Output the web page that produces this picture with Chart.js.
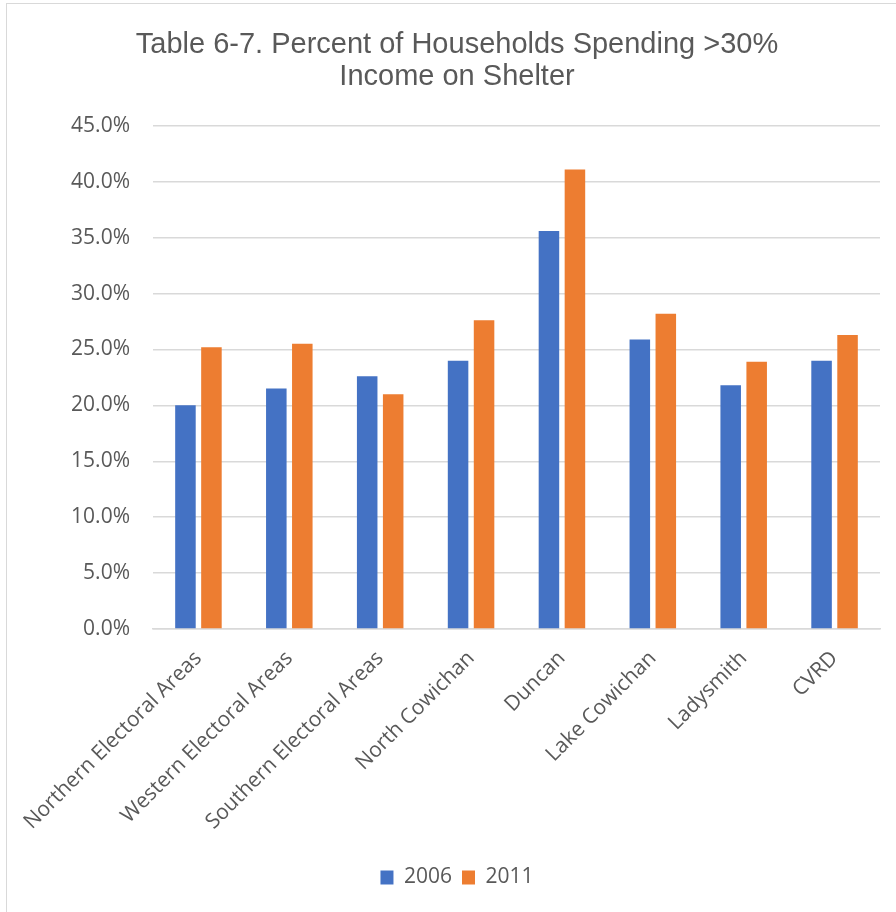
<!DOCTYPE html>
<html>
<head>
<meta charset="utf-8">
<script src="https://cdn.jsdelivr.net/npm/chart.js@4/dist/chart.umd.min.js"></script>
<style>
  body { margin: 0; background: #fff; overflow: hidden; }
  #frame { position: absolute; left: 6px; top: 3px; width: 1000px; height: 1000px; border: 1px solid #d9d9d9; }
  #wrap { position: absolute; left: 0; top: 0; width: 896px; height: 912px; }
</style>
</head>
<body>
<div id="frame"></div>
<div id="wrap"><canvas id="myChart" width="896" height="912"></canvas></div>
<script>
// categories and values (percent)
let areas = ["Northern Electoral Areas", "Western Electoral Areas", "Southern Electoral Areas",
  "North Cowichan", "Duncan", "Lake Cowichan", "Ladysmith", "CVRD"];
let values2006 = [20.0, 21.5, 22.6, 24.0, 35.6, 25.9, 21.8, 24.0];
let values2011 = [25.2, 25.5, 21.0, 27.6, 41.1, 28.2, 23.9, 26.3];
let yTicks = [0, 5, 10, 15, 20, 25, 30, 35, 40, 45];

let textColor = "#595959";
let gridColor = "#d9d9d9";

var ctx = document.getElementById("myChart").getContext("2d");
var myChart = new Chart(ctx, {
  type: "bar",
  data: {
    labels: areas,
    datasets: [
      { label: "2006", data: values2006, backgroundColor: "#4472C4" },
      { label: "2011", data: values2011, backgroundColor: "#ED7D31" }
    ]
  },
  options: {
    responsive: false,
    animation: false,
    categoryPercentage: 0.572,
    barPercentage: 0.79,
    layout: { padding: { left: 34, right: 16, top: 29, bottom: 14 } },
    plugins: {
      title: {
        display: true,
        text: ["Table 6-7. Percent of Households Spending >30%", "Income on Shelter"],
        color: textColor,
        font: { family: "'Liberation Sans', Arial, sans-serif", size: 29, weight: "normal", lineHeight: 1.1 },
        padding: { top: 0, bottom: 33 }
      },
      legend: {
        position: "bottom",
        labels: {
          color: textColor,
          boxWidth: 13,
          boxHeight: 14,
          padding: 10,
          font: { family: "'Open Sans', sans-serif", size: 21 }
        }
      },
      tooltip: { enabled: false }
    },
    scales: {
      x: {
        grid: { display: false, drawTicks: false },
        border: { display: true, color: gridColor, width: 1.5 },
        ticks: {
          color: textColor,
          maxRotation: 45,
          minRotation: 45,
          padding: 17,
          font: { family: "'Open Sans', sans-serif", size: 21 }
        },
        afterFit: function (scale) { scale.height = 228; }
      },
      y: {
        min: 0,
        max: 45,
        afterBuildTicks: function (scale) {
          scale.ticks = yTicks.map(function (v) { return { value: v }; });
        },
        grid: { color: gridColor, lineWidth: 1.5, drawTicks: false },
        border: { display: false },
        ticks: {
          color: textColor,
          padding: 23,
          font: { family: "'Open Sans', sans-serif", size: 21 },
          callback: function (v) { return v.toFixed(1) + "%"; }
        },
        afterFit: function (scale) { scale.width = 119; }
      }
    }
  }
});
</script>
</body>
</html>
